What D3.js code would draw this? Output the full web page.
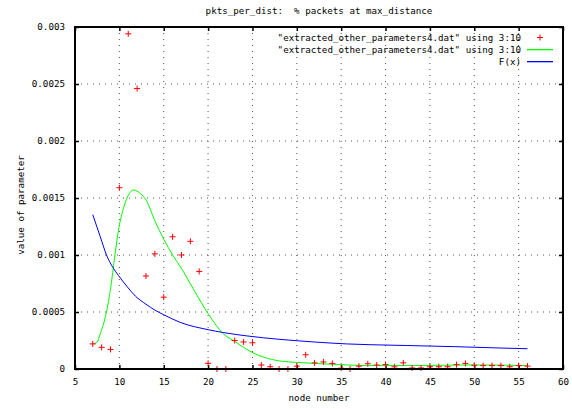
<!DOCTYPE html>
<html>
<head>
<meta charset="utf-8">
<script src="https://cdn.jsdelivr.net/npm/d3@7"></script>
<style>
body{margin:0;background:#fff;}
text{font-family:"DejaVu Sans Mono",monospace;font-size:9.2px;fill:#000;white-space:pre;}
</style>
</head>
<body>
<svg id="chart" width="572" height="409"></svg>
<script>
// data
var nodeNumber=[7,8,9,10,11,12,13,14,15,16,17,18,19,20,21,22,23,24,25,26,27,28,29,30,31,
    32,33,34,35,36,37,38,39,40,41,42,43,44,45,46,47,48,49,50,51,52,53,54,55,56];
var pktsAtMax=[0.00022,0.00019,0.000172,0.00159,0.00294,0.00246,0.000816,0.00101,0.00063,0.00116,
    0.001,0.00112,0.000856,0.00005,0,0,0.00025,0.000237,0.00023,0.000035,
    0.00002,0,0,0.000025,0.000125,0.000054,0.000062,0.000049,0.000007,0,
    0.000025,0.000046,0.000035,0.00004,0.000019,0.000054,0.000009,0.000009,0.00002,0.00002,
    0.00002,0.000038,0.000049,0.000032,0.00003,0.00003,0.00003,0.00002,0.00003,0.000025];
// smoothed curve (green)
var smoothX=[7,7.5,7.85,8.4,9,9.5,9.95,10.5,11.05,11.6,12.35,13.1,14,15,16,17.1,18.35,20.05,21.7,23.05,24.4,
    26.2,28.1,30,34.5,38,43,50,56];
var smoothY=[0.00022,0.000237,0.00031,0.00045,0.0007,0.001,0.00124,0.00142,0.00153,0.00157,0.00154,0.00147,
    0.0013,0.00114,0.001,0.00087,0.0007,0.00048,0.00031,0.00024,0.00017,
    0.000105,0.00007,0.000058,0.00004,0.00003,0.00003,0.000036,0.00003];
// F(x) (blue)
var fitX=[7,7.85,8.6,9.2,9.9,10.9,11.8,13,14,15,16.86,20,21.7,24.4,28.1,30,31.9,33.75,35.6,38.25,42.4,47.8,52.9,56];
var fitY=[0.001354,0.00116,0.00099,0.0009,0.00082,0.00072,0.00064,0.000568,0.000517,0.000476,0.000409,0.000345,
    0.00032,0.00029,0.00026,0.000248,0.000237,0.000228,0.00022,0.000213,0.000206,0.000196,0.000184,0.000178];

var xTicks=[5,10,15,20,25,30,35,40,45,50,55,60];
var yTicks=[0,0.0005,0.001,0.0015,0.002,0.0025,0.003];
var yTickLabels=["0","0.0005","0.001","0.0015","0.002","0.0025","0.003"];
var legendLabels=['"extracted_other_parameters4.dat" using 3:10','"extracted_other_parameters4.dat" using 3:10',"F(x)"];
var legendColors=["#ff0000","#00ff00","#0000ff"];

var plot={"left":75,"right":563,"top":27,"bottom":369};

var svg=d3.select("#chart");
var x=d3.scaleLinear().domain([5,60]).range([plot.left,plot.right]);
var y=d3.scaleLinear().domain([0,0.003]).range([plot.bottom,plot.top]);

//grid
var grid=svg.append("g").attr("id","grid");
grid.selectAll(".vgrid").data(xTicks.slice(1,-1)).enter().append("line")
    .attr("x1",function (d) {return x(d)}).attr("x2",function (d) {return x(d)})
    .attr("y1",plot.top).attr("y2",plot.bottom);
grid.selectAll(".hgrid").data(yTicks.slice(1,-1)).enter().append("line")
    .attr("y1",function (d) {return y(d)}).attr("y2",function (d) {return y(d)})
    .attr("x1",plot.left).attr("x2",plot.right);
grid.selectAll("line").attr("stroke","#555").attr("stroke-width",1).attr("stroke-dasharray","1,5");

//axes, ticks inward and mirrored
var bottomAxis=d3.axisBottom(x).tickValues(xTicks).tickSizeInner(-4).tickSizeOuter(0).tickPadding(9);
var leftAxis=d3.axisLeft(y).tickValues(yTicks).tickSizeInner(-4).tickSizeOuter(0).tickPadding(10)
    .tickFormat(function (d,i) {return yTickLabels[i]});
var gx=svg.append("g").attr("transform","translate(0,"+plot.bottom+")").call(bottomAxis);
var gy=svg.append("g").attr("transform","translate("+plot.left+",0)").call(leftAxis);
var gTop=svg.append("g").attr("transform","translate(0,"+plot.top+")")
    .call(d3.axisTop(x).tickValues(xTicks).tickSizeInner(-4).tickSizeOuter(0).tickFormat(""));
var gRight=svg.append("g").attr("transform","translate("+plot.right+",0)")
    .call(d3.axisRight(y).tickValues(yTicks).tickSizeInner(-4).tickSizeOuter(0).tickFormat(""));
[gx,gy,gTop,gRight].forEach(function (g) {
    g.select(".domain").remove();
    g.selectAll(".tick line").attr("stroke","#000").attr("stroke-width",1.5);
    g.attr("font-family",null).attr("font-size",null);
});

//lines
var smoothLine=d3.line().x(function (d) {return x(d[0])}).y(function (d) {return y(d[1])}).curve(d3.curveMonotoneX);
svg.append("path").datum(d3.zip(smoothX,smoothY)).attr("d",smoothLine)
    .attr("fill","none").attr("stroke",legendColors[1]).attr("stroke-width",1);
svg.append("path").datum(d3.zip(fitX,fitY)).attr("d",smoothLine)
    .attr("fill","none").attr("stroke",legendColors[2]).attr("stroke-width",1);

//points
var plusSize=3;
function plusPath(px,py) {
    return "M"+(px-plusSize)+","+py+"H"+(px+plusSize)+"M"+px+","+(py-plusSize)+"V"+(py+plusSize);
}
svg.append("g").selectAll("path").data(d3.zip(nodeNumber,pktsAtMax)).enter().append("path")
    .attr("d",function (d) {return plusPath(x(d[0]),y(d[1]))})
    .attr("stroke",legendColors[0]).attr("stroke-width",1).attr("fill","none");

//border
svg.append("rect").attr("x",plot.left).attr("y",plot.top)
    .attr("width",plot.right-plot.left).attr("height",plot.bottom-plot.top)
    .attr("fill","none").attr("stroke","#000").attr("stroke-width",2);

//legend
var legend=svg.append("g").attr("id","legend");
legendLabels.forEach(function (t,i) {
    var ly=37.5+i*12;
    legend.append("text").attr("x",521).attr("y",ly).attr("dy","0.35em").attr("text-anchor","end").text(t);
    if(i===0){
        legend.append("path").attr("d",plusPath(540,ly)).attr("stroke",legendColors[0]).attr("fill","none");
    }
    else{
        // sample as a 1px filled bar
        legend.append("rect").attr("x",527).attr("y",Math.floor(ly)).attr("width",26).attr("height",1.3)
            .attr("fill",legendColors[i]).attr("stroke","none");
    }
});

//titles
svg.append("text").attr("x",(plot.left+plot.right)/2).attr("y",11).attr("dy","0.35em")
    .attr("text-anchor","middle").text("pkts_per_dist:  % packets at max_distance");
svg.append("text").attr("x",(plot.left+plot.right)/2).attr("y",398).attr("dy","0.35em")
    .attr("text-anchor","middle").text("node number");
svg.append("text").attr("transform","translate(21,205) rotate(-90)").attr("dy","0.35em")
    .attr("text-anchor","middle").text("value of parameter");
</script>
</body>
</html>
